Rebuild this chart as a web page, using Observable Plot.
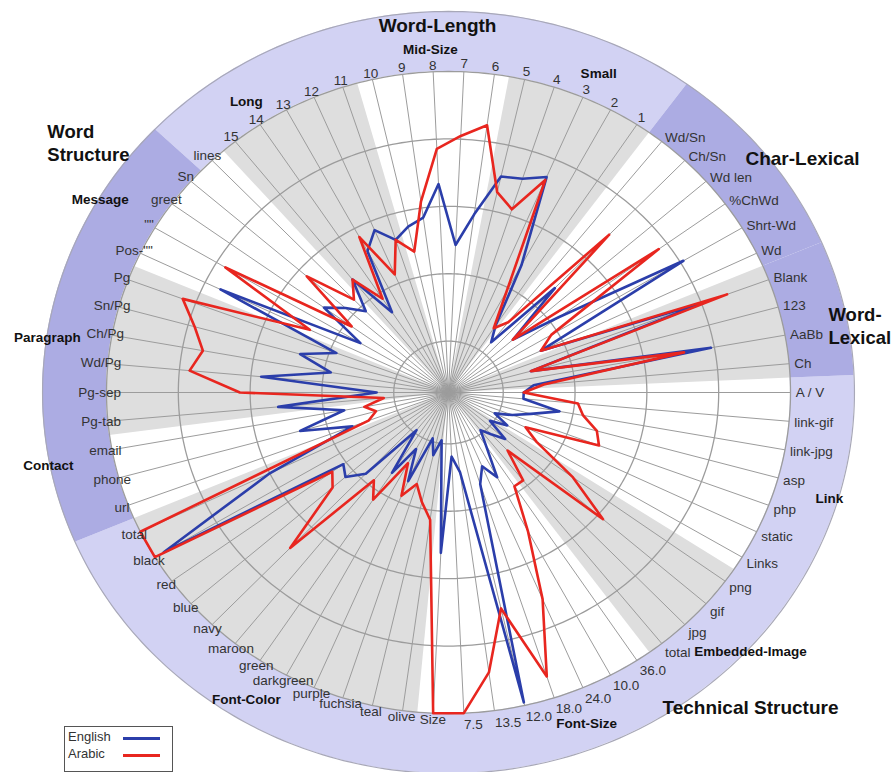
<!DOCTYPE html>
<html><head><meta charset="utf-8">
<script src="https://cdn.jsdelivr.net/npm/d3@7"></script>
<script src="https://cdn.jsdelivr.net/npm/@observablehq/plot@0.6"></script>
<style>
body{margin:0;background:#fff;font-family:Arial,"Liberation Sans",sans-serif;}
#wrap{position:relative;width:894px;height:772px;overflow:hidden;}
#legend{position:absolute;left:64px;top:726px;width:109px;height:46px;border:1px solid #555;background:#fff;font-size:13px;color:#333;box-sizing:border-box;}
#legend div{position:absolute;left:3px;}
#legend span{position:absolute;left:58px;width:37px;height:3px;}
</style></head><body>
<div id="wrap"><div id="legend">
<div style="top:2px">English</div><span style="top:10px;background:#2b3eaa"></span>
<div style="top:19px">Arabic</div><span style="top:27px;background:#e8261f"></span>
</div></div>
<script>
// ---- data ----
const spokes = ["7","6","5","4","3","2","1","Wd/Sn","Ch/Sn","Wd len","%ChWd","Shrt-Wd","Wd","Blank","123","AaBb","Ch","A / V","link-gif","link-jpg","asp","php","static","Links","png","gif","jpg","total","36.0","10.0","24.0","18.0","12.0","13.5","7.5","Size","olive","teal","fuchsia","purple","darkgreen","green","maroon","navy","blue","red","black","total","url","phone","email","Pg-tab","Pg-sep","Wd/Pg","Ch/Pg","Sn/Pg","Pg","Pos-\"\"","\"\"","greet","Sn","lines","15","14","13","12","11","10","9","8"];
const english = [0.46,0.56,0.69,0.70,0.73,0.45,0.25, 0.20,0.45,0.25,0.40,0.80,0.30, 0.80,0.25,0.78,0.25, 0.22,0.22,0.33,0.25,0.20,0.15,0.20, 0.15,0.22,0.18,0.15, 0.20,0.30,0.25,0.30,0.99,0.25,0.20,0.50, 0.15,0.20,0.15,0.30,0.20,0.30,0.15,0.35,0.40,0.38,0.97,0.58, 0.30,0.45,0.31, 0.50,0.21,0.55,0.35,0.45,0.35, 0.74,0.30,0.45,0.40, 0.35,0.45,0.30,0.50,0.55,0.50,0.53,0.55,0.65];
const arabic = [0.80,0.84,0.64,0.60,0.72,0.36,0.24, 0.28,0.68,0.25,0.76,0.35,0.30, 0.87,0.25,0.70,0.28, 0.22,0.38,0.40,0.45,0.47,0.25,0.30, 0.45,0.60,0.25,0.35, 0.35,0.49,0.70,0.93,0.69,0.88,1.0,1.0, 0.40,0.35,0.30,0.35,0.25,0.40,0.35,0.67,0.45,0.42,1.0,1.0, 0.25,0.22,0.25, 0.19,0.61,0.76,0.73,0.77,0.83, 0.45,0.76,0.35,0.55, 0.40,0.45,0.35,0.55,0.40,0.50,0.45,0.60,0.76];
const ringLevels = [0.16, 0.37, 0.58, 0.79];
// feature groups (first / last spoke index) that are shaded
const groupNames = ["Small","Long","Word-Lexical","Embedded-Image","Font-Color","Paragraph"];
const groupFirst = [2, 62, 13, 24, 36, 51];
const groupLast  = [6, 66, 16, 27, 47, 56];
// outer categories (first / last spoke index, tone)
const catNames = ["Word-Length","Char-Lexical","Word-Lexical","Technical Structure","Word Structure"];
const catFirst = [61, 7, 13, 17, 48];
const catLast  = [76, 12, 16, 47, 60];
const catTone  = ["light","dark","dark","light","dark"];
// group / category titles
const subTitles = ["Mid-Size","Small","Long","Message","Paragraph","Contact","Link","Embedded-Image","Font-Size","Font-Color"];
const catTitlesCentered = ["Word-Length","Char-Lexical","Technical Structure"];
const catTitlesLeft = ["Word-\nLexical","Word\nStructure"];

// ---- layout (unit-disk coordinates) ----
const subTitlePos = [[-0.053,1.068],[0.439,0.994],[-0.591,0.907],[-1.018,0.601],[-1.173,0.171],[-1.170,-0.227],[1.114,-0.330],[0.883,-0.807],[0.404,-1.031],[-0.591,-0.956]];
const catCenteredPos = [[-0.032,1.143],[1.035,0.729],[0.883,-0.984]];
const catLeftPos = [[1.111,0.209],[-1.173,0.779]];

const N = spokes.length, step = 2*Math.PI/N;
const R_OUT = 1.187;
const toneColor = {light:"#d2d2f3", dark:"#acace3"};
const ang = i => (i + 0.5) * step;
function arcRows(a0, a1, rIn, rOut, z){
  const n = Math.max(2, Math.ceil((a1 - a0) / 0.01));
  return d3.range(n + 1).map(j => {
    const a = a0 + (a1 - a0) * j / n;
    return {z, xo: rOut*Math.sin(a), yo: rOut*Math.cos(a), xi: rIn*Math.sin(a), yi: rIn*Math.cos(a)};
  });
}
const bandRows = tone => catNames.flatMap((c,i) => catTone[i]===tone ? arcRows(catFirst[i]*step, (catLast[i]+1)*step, 1, R_OUT, c) : []);
const wedgeRows = groupNames.flatMap((g,i) => arcRows(groupFirst[i]*step, (groupLast[i]+1)*step, 0, 1, g));
const circ = r => d3.range(361).map(d => ({r, x: r*Math.sin(d*Math.PI/180), y: r*Math.cos(d*Math.PI/180)}));
const ringRows = ringLevels.flatMap(circ);
const spokeRows = spokes.map((s,i) => ({s, x: Math.sin(ang(i)), y: Math.cos(ang(i))}));
const series = (vals, name) => vals.map((v,i) => ({name, x: v*Math.sin(ang(i)), y: v*Math.cos(ang(i))}));
// spoke labels: left half centred, right half start-anchored (top ones centred)
const labelMid = [], labelStart = [];
spokes.forEach((s,i) => {
  const a = ang(i), sn = Math.sin(a), cs = Math.cos(a);
  if (sn < 0 || cs > 0.8) {
    const r = sn < 0 ? 1.02 : 1.025;
    labelMid.push({s, x: r*sn, y: r*cs});
  } else {
    const r = 1.015;
    labelStart.push({s, x: r*sn, y: r*cs - Math.max(0,-cs)*7/321});
  }
});
const subRows = subTitles.map((t,i) => ({t, x: subTitlePos[i][0], y: subTitlePos[i][1]}));
const catMidRows = catTitlesCentered.map((t,i) => ({t, x: catCenteredPos[i][0], y: catCenteredPos[i][1]}));
const catLeftRows = catTitlesLeft.map((t,i) => ({t, x: catLeftPos[i][0], y: catLeftPos[i][1]}));

const cx = 448, cy = 392, rx = 342, ry = 321;
const font = "Arial, 'Liberation Sans', sans-serif";
const chart = Plot.plot({
  width: 894, height: 772, margin: 0,
  x: {domain: [-1, 1], range: [cx - rx, cx + rx], axis: null},
  y: {domain: [-1, 1], range: [cy + ry, cy - ry], axis: null},
  style: {background: "white", fontFamily: font},
  marks: [
    Plot.area(bandRows("light"), {x1:"xo", y1:"yo", x2:"xi", y2:"yi", z:"z", fill: toneColor.light}),
    Plot.area(bandRows("dark"), {x1:"xo", y1:"yo", x2:"xi", y2:"yi", z:"z", fill: toneColor.dark}),
    Plot.line(circ(R_OUT), {x:"x", y:"y", stroke:"#a8a8b8", strokeWidth:1.2}),
    Plot.area(wedgeRows, {x1:"xo", y1:"yo", x2:"xi", y2:"yi", z:"z", fill:"#dedede"}),
    Plot.line(ringRows, {x:"x", y:"y", z:"r", stroke:"#9c9c9c", strokeWidth:1.3}),
    Plot.link(spokeRows, {x1: 0, y1: 0, x2:"x", y2:"y", stroke:"#9c9c9c", strokeWidth:1}),
    Plot.line(circ(1), {x:"x", y:"y", stroke:"#9c9c9c", strokeWidth:1.3}),
    Plot.line(series(english,"English"), {x:"x", y:"y", curve:"linear-closed", stroke:"#2b3eaa", strokeWidth:2.6}),
    Plot.line(series(arabic,"Arabic"), {x:"x", y:"y", curve:"linear-closed", stroke:"#e8261f", strokeWidth:2.6}),
    Plot.text(labelMid, {x:"x", y:"y", text:"s", fontSize:13.5, fill:"#333", fontFamily: font}),
    Plot.text(labelStart, {x:"x", y:"y", text:"s", fontSize:13.5, fill:"#333", textAnchor:"start", fontFamily: font}),
    Plot.text(subRows, {x:"x", y:"y", text:"t", fontSize:13.5, fontWeight:"bold", fill:"#111", fontFamily: font}),
    Plot.text(catMidRows, {x:"x", y:"y", text:"t", fontSize:19, fontWeight:"bold", fill:"#111", fontFamily: font}),
    Plot.text(catLeftRows, {x:"x", y:"y", text:"t", fontSize:18.5, fontWeight:"bold", fill:"#111", textAnchor:"start", lineHeight:1.2, fontFamily: font})
  ]
});
document.getElementById("wrap").prepend(chart);
</script>
</body></html>
